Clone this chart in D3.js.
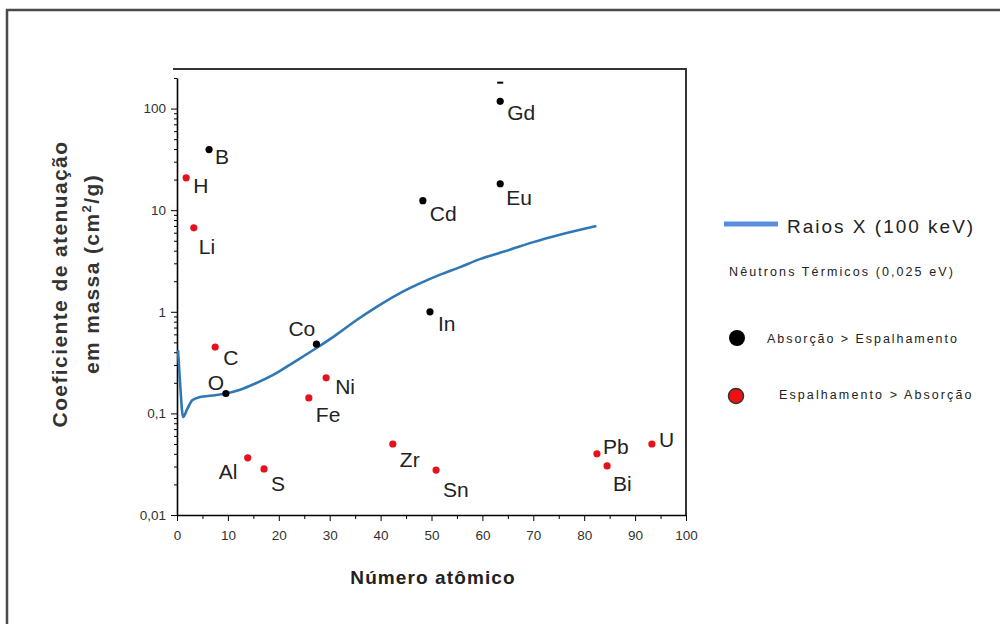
<!DOCTYPE html>
<html>
<head>
<meta charset="utf-8">
<script src="https://cdn.jsdelivr.net/npm/d3@7"></script>
<style>
  body { margin: 0; background: #fff; }
  text { font-family: "Liberation Sans", Arial, sans-serif; }
</style>
</head>
<body>
<script>
const width = 1000;
const height = 624;

// element symbols, atomic number (as plotted) and mass attenuation coefficient
const elements = ["H", "Li", "B", "C", "O", "Al", "S", "Fe", "Co", "Ni", "Zr", "Cd", "In", "Sn", "Eu", "Gd", "Pb", "Bi", "U"];
const atomicNumber = [1.8, 3.3, 6.3, 7.5, 9.6, 13.9, 17.1, 25.9, 27.4, 29.3, 42.4, 48.3, 49.7, 50.9, 63.5, 63.5, 82.5, 84.5, 93.3];
const coefficient = [20.8, 6.7, 39.5, 0.45, 0.157, 0.0365, 0.0284, 0.142, 0.48, 0.224, 0.050, 12.4, 1.0, 0.0277, 18.2, 118, 0.040, 0.0304, 0.050];
const absorption = [false, false, true, false, true, false, false, false, true, false, false, true, true, false, true, true, false, false, false];

// partly hidden Gd marker at the top
const gdTopZ = [63.5];
const gdTopValue = [180];

// X-ray (100 keV) curve
const curveZ = [0.2, 0.6, 1.2, 2, 3, 4.5, 7, 9.6, 12.4, 15.5, 18.9, 23, 27.4, 31, 35.3, 39, 43.2, 47.5, 51.7, 55.6, 59.5, 65.4, 70, 75.2, 82.4];
const curveValue = [0.42, 0.2, 0.092, 0.11, 0.135, 0.145, 0.15, 0.157, 0.171, 0.198, 0.239, 0.32, 0.44, 0.58, 0.83, 1.1, 1.47, 1.88, 2.32, 2.75, 3.3, 4.08, 4.85, 5.74, 7.0];

const xTicks = [0, 10, 20, 30, 40, 50, 60, 70, 80, 90, 100];
const xMinorTicks = [5, 15, 25, 35, 45, 55, 65, 75, 85, 95];
const yTicks = [0.01, 0.1, 1, 10, 100];

// label offsets from each dot
const labelOffset = {
    H: [7, 15], Li: [5, 26], B: [6, 14], C: [8, 18], O: [-18, -3], Al: [-29, 21],
    S: [7, 22], Fe: [7, 24], Co: [-28, -8], Ni: [9, 16], Zr: [7, 23], Cd: [7, 20],
    In: [8, 19], Sn: [7, 27], Eu: [6, 21], Gd: [7, 19], Pb: [6, 0], Bi: [6, 25], U: [7, 3]
};

const plot = { left: 177, right: 686, top: 78, bottom: 515 };

let svg = d3.select("body").append("svg")
    .attr("width", width)
    .attr("height", height);

svg.append("rect")
    .attr("width", width)
    .attr("height", height)
    .attr("fill", "#fff");

// outer frame
svg.append("rect")
    .attr("x", 7)
    .attr("y", 10)
    .attr("width", 1200)
    .attr("height", 800)
    .attr("fill", "none")
    .attr("stroke", "#4a4a4a")
    .attr("stroke-width", 2.5);

let xScale = d3.scaleLinear()
    .domain([0, 100])
    .range([plot.left, plot.right]);

let yScale = d3.scaleLog()
    .domain([0.01, 200])
    .range([plot.bottom, plot.top]);

const fmt = d => String(d).replace(".", ",");

// top and right frame lines
svg.append("path")
    .attr("d", `M${plot.left - 4},69 H${plot.right} V${plot.bottom + 1}`)
    .attr("fill", "none")
    .attr("stroke", "#333")
    .attr("stroke-width", 2);

// minor ticks
let yMinor = [];
yTicks.forEach(t => {
    for (let k = 2; k <= 9; k++) {
        if (t * k <= 200) yMinor.push(t * k);
    }
});

svg.append("g")
    .attr("transform", `translate(${plot.left},0)`)
    .call(d3.axisLeft(yScale).tickValues(yMinor).tickSize(3).tickFormat(""))
    .call(g => g.select(".domain").remove());

svg.append("g")
    .attr("transform", `translate(0,${plot.bottom})`)
    .call(d3.axisBottom(xScale).tickValues(xMinorTicks).tickSize(4).tickFormat(""))
    .call(g => g.select(".domain").remove());

let yAxis = svg.append("g")
    .attr("class", "axis axis--y")
    .attr("transform", `translate(${plot.left},0)`)
    .call(d3.axisLeft(yScale).tickValues(yTicks).tickSize(6).tickPadding(5).tickFormat(fmt).tickSizeOuter(0));

let xAxis = svg.append("g")
    .attr("class", "axis axis--x")
    .attr("transform", `translate(0,${plot.bottom})`)
    .call(d3.axisBottom(xScale).tickValues(xTicks).tickSize(6).tickPadding(9).tickSizeOuter(0));

svg.selectAll(".axis .domain")
    .attr("stroke", "#000")
    .attr("stroke-width", 1.6);
svg.selectAll(".axis text")
    .style("font-size", "13.5px")
    .style("font-family", "'Liberation Sans', Arial, sans-serif")
    .attr("fill", "#333");

// axis titles
svg.append("text")
    .attr("x", 433)
    .attr("y", 584)
    .attr("text-anchor", "middle")
    .style("font-size", "19px")
    .style("font-weight", "bold")
    .style("letter-spacing", "1.1px")
    .attr("fill", "#222")
    .text("Número atômico");

svg.append("text")
    .attr("transform", "translate(67,284) rotate(-90)")
    .attr("text-anchor", "middle")
    .style("font-size", "21px")
    .style("font-weight", "bold")
    .style("letter-spacing", "1.4px")
    .attr("fill", "#333")
    .text("Coeficiente de atenuação");

let yTitle2 = svg.append("text")
    .attr("transform", "translate(99,274) rotate(-90)")
    .attr("text-anchor", "middle")
    .style("font-size", "21px")
    .style("font-weight", "bold")
    .style("letter-spacing", "1.4px")
    .attr("fill", "#333");
yTitle2.append("tspan").text("em massa (cm");
yTitle2.append("tspan").attr("dy", -8).style("font-size", "13px").text("2");
yTitle2.append("tspan").attr("dy", 8).text("/g)");

// X-ray curve
const curveData = curveZ.map((z, i) => ({ z: z, v: curveValue[i] }));
let line = d3.line()
    .x(d => xScale(d.z))
    .y(d => yScale(d.v))
    .curve(d3.curveMonotoneX);

svg.append("path")
    .datum(curveData)
    .attr("d", line)
    .attr("fill", "none")
    .attr("stroke", "#2f78b4")
    .attr("stroke-width", 2.6);

// element points
const points = elements.map((e, i) => ({
    el: e,
    z: atomicNumber[i],
    v: coefficient[i],
    abs: absorption[i]
}));

svg.selectAll(".dot")
    .data(points)
    .enter()
    .append("circle")
    .attr("class", "dot")
    .attr("cx", d => xScale(d.z))
    .attr("cy", d => yScale(d.v))
    .attr("r", 3.6)
    .attr("fill", d => d.abs ? "#000" : "#e3121c");

svg.selectAll(".gd-top")
    .data(gdTopZ.map((z, i) => ({ z: z, v: gdTopValue[i] })))
    .enter()
    .append("line")
    .attr("class", "gd-top")
    .attr("x1", d => xScale(d.z) - 3)
    .attr("x2", d => xScale(d.z) + 3)
    .attr("y1", d => yScale(d.v))
    .attr("y2", d => yScale(d.v))
    .attr("stroke", "#000")
    .attr("stroke-width", 2);

svg.selectAll(".el-label")
    .data(points)
    .enter()
    .append("text")
    .attr("class", "el-label")
    .attr("x", d => xScale(d.z) + labelOffset[d.el][0])
    .attr("y", d => yScale(d.v) + labelOffset[d.el][1])
    .style("font-size", "21px")
    .attr("fill", "#222")
    .text(d => d.el);

// legend
let legend = svg.append("g");

legend.append("line")
    .attr("x1", 724).attr("x2", 778)
    .attr("y1", 224).attr("y2", 224)
    .attr("stroke", "#5a8de0")
    .attr("stroke-width", 5);

legend.append("text")
    .attr("x", 787).attr("y", 233)
    .style("font-size", "19px")
    .style("letter-spacing", "2px")
    .attr("fill", "#222")
    .text("Raios X  (100 keV)");

legend.append("text")
    .attr("x", 729).attr("y", 276)
    .style("font-size", "12.5px")
    .style("letter-spacing", "2.1px")
    .attr("fill", "#222")
    .text("Nêutrons Térmicos  (0,025 eV)");

legend.append("circle")
    .attr("cx", 737).attr("cy", 338)
    .attr("r", 8)
    .attr("fill", "#000");

legend.append("text")
    .attr("x", 767).attr("y", 343)
    .style("font-size", "12.5px")
    .style("letter-spacing", "1.95px")
    .attr("fill", "#222")
    .text("Absorção > Espalhamento");

legend.append("circle")
    .attr("cx", 736).attr("cy", 396)
    .attr("r", 7.5)
    .attr("fill", "#f01010")
    .attr("stroke", "#333")
    .attr("stroke-width", 1.5);

legend.append("text")
    .attr("x", 779).attr("y", 399)
    .style("font-size", "12.5px")
    .style("letter-spacing", "2.1px")
    .attr("fill", "#222")
    .text("Espalhamento > Absorção");
</script>
</body>
</html>
